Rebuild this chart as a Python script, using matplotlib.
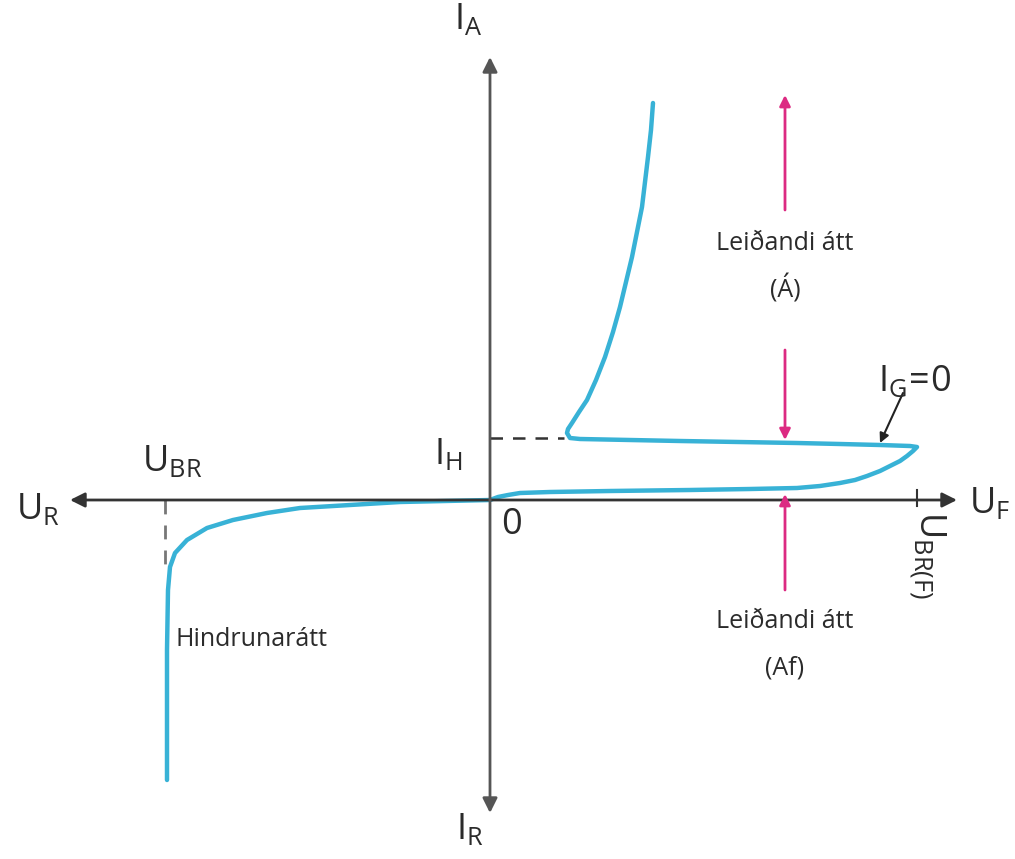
import numpy as np
import matplotlib
matplotlib.use('Agg')
from matplotlib import pyplot as plt

plt.rcParams['font.family'] = ['Open Sans', 'DejaVu Sans']
plt.rcParams['mathtext.fontset'] = 'custom'
plt.rcParams['mathtext.rm'] = 'Open Sans'
plt.rcParams['mathtext.it'] = 'Open Sans'
plt.rcParams['text.color'] = '#2b2b2b'

# forward blocking branch: origin -> breakover point U_BR(F)
fwd_u = [0, 8, 18, 30, 60, 120, 200, 260, 307, 330, 350, 365, 377, 390, 400, 410, 417, 423, 427]
fwd_i = [0, 3, 5, 7, 8, 9, 10, 11, 12, 14, 17, 20, 24, 29, 34, 39, 44, 49, 53]
# negative resistance part back to the holding current
back_u = [427, 420, 390, 350, 307, 190, 90, 80]
back_i = [53, 54, 55, 56, 57, 59, 61, 62]
# on-state branch
on_u = [80, 77, 78, 82, 89, 97, 106, 115, 123, 130, 136, 142, 147, 152, 155, 158, 161, 163]
on_i = [62, 67, 71, 77, 88, 100, 120, 143, 168, 193, 218, 243, 268, 293, 318, 343, 370, 397]
# reverse branch down to breakdown
rev_u = [0, -90, -140, -190, -223, -257, -283, -303, -315, -320, -322, -323, -323]
rev_i = [0, -2, -5, -8, -13, -20, -28, -40, -53, -67, -90, -150, -280]

u_br = -325
u_brf = 427
i_h = 62
cyan = '#38b2d6'
pink = '#dc2a82'

fig = plt.figure(figsize=(10.15, 8.59), dpi=100)
ax = fig.add_axes([0, 0, 1, 1])
ax.set_xlim(-490, 525)
ax.set_ylim(-359, 500)
ax.axis('off')

# axes with arrow heads
arr = dict(arrowstyle='-|>', color='#333333', lw=2, mutation_scale=22, shrinkA=0, shrinkB=0)
ax.annotate('', xy=(467, 0), xytext=(0, 0), arrowprops=arr)
ax.annotate('', xy=(-420, 0), xytext=(0, 0), arrowprops=arr)
arr_v = dict(arr, color='#555555')
ax.annotate('', xy=(0, 443), xytext=(0, 0), arrowprops=arr_v)
ax.annotate('', xy=(0, -313), xytext=(0, 0), arrowprops=arr_v)

# tick at U_BR(F)
ax.plot([u_brf, u_brf], [-6, 10], color='#333333', lw=1.5)

# dashed helper lines
ax.plot([0, on_u[1] - 3], [i_h, i_h], color='#333333', lw=1.8, ls=(0, (5, 4)))
ax.plot([u_br, u_br], [0, -65], color='#777777', lw=2, ls=(0, (5, 4)))

# characteristic curve
u_all = fwd_u + back_u[1:] + on_u[1:]
i_all = fwd_i + back_i[1:] + on_i[1:]
ax.plot(u_all, i_all, color=cyan, lw=3.2, solid_joinstyle='round', solid_capstyle='round')
ax.plot(rev_u, rev_i, color=cyan, lw=3.2, solid_joinstyle='round', solid_capstyle='round')

# current direction arrows
parr = dict(arrowstyle='-|>', color=pink, lw=2, mutation_scale=16, shrinkA=0, shrinkB=0)
ax.annotate('', xy=(295, 405), xytext=(295, 290), arrowprops=parr)
ax.annotate('', xy=(295, 60), xytext=(295, 150), arrowprops=parr)
ax.annotate('', xy=(295, 6), xytext=(295, -90), arrowprops=parr)

# I_G = 0 pointer
ax.annotate('', xy=(390, 57), xytext=(413, 107),
            arrowprops=dict(arrowstyle='-|>', color='#222222', lw=1.5, mutation_scale=14,
                            shrinkA=0, shrinkB=0))

big = 26
ax.text(-22, 480, r'$\mathrm{I_A}$', fontsize=big, ha='center', va='center')
ax.text(-20, -330, r'$\mathrm{I_R}$', fontsize=big, ha='center', va='center')
ax.text(-452, -10, r'$\mathrm{U_R}$', fontsize=big, ha='center', va='center')
ax.text(500, -4, r'$\mathrm{U_F}$', fontsize=big, ha='center', va='center')
ax.text(-318, 38, r'$\mathrm{U_{BR}}$', fontsize=big, ha='center', va='center')
ax.text(-42, 45, r'$\mathrm{I_H}$', fontsize=big, ha='center', va='center')
ax.text(22, -25, '0', fontsize=big, ha='center', va='center')
ax.text(437, -55, r'$\mathrm{U_{BR(F)}}$', fontsize=big, ha='center', va='center', rotation=-90)
ax.text(425, 118, r'$\mathrm{I_G\!=\!0}$', fontsize=big, ha='center', va='center')

small = 18
ax.text(295, 256, 'Leiðandi átt', fontsize=small, ha='center', va='center')
ax.text(295, 211, '(Á)', fontsize=small, ha='center', va='center')
ax.text(295, -122, 'Leiðandi átt', fontsize=small, ha='center', va='center')
ax.text(295, -168, '(Af)', fontsize=small, ha='center', va='center')
ax.text(-238, -140, 'Hindrunarátt', fontsize=small, ha='center', va='center')

fig.savefig('out.png', dpi=100)
